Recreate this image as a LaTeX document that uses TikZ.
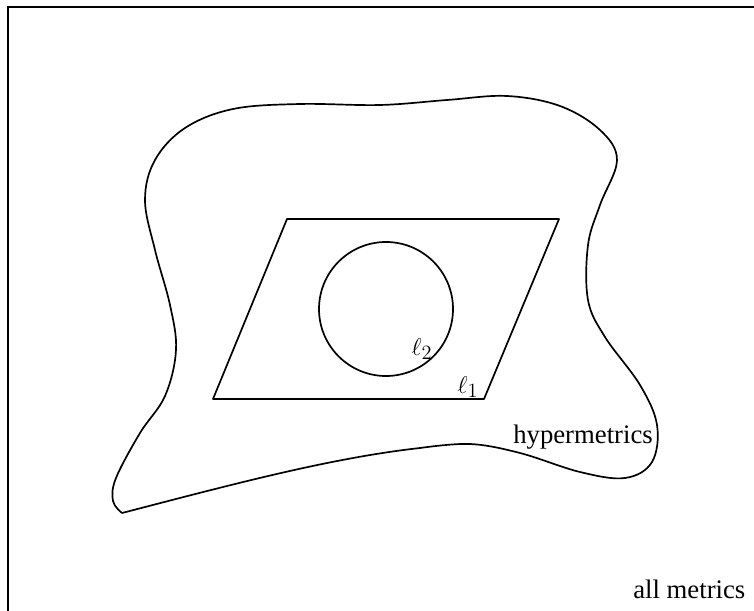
\documentclass[tikz,border=0pt]{standalone}
\usepackage{fontspec}
\setmainfont{Liberation Serif}
\usepackage{tikz}

\begin{document}
\begin{tikzpicture}[
    x=0.025cm, y=-0.025cm,
    outline/.style={line width=1.2pt, line join=round},
    lbl/.style={font=\fontsize{19}{23}\selectfont, inner sep=0pt}
]
\useasboundingbox (0,0) rectangle (754,610);

% Outer frame (all metrics)
\draw[line width=1.4pt] (8,7) rectangle (790,650);

% Hypermetrics blob
\draw[outline] plot[smooth, tension=0.6] coordinates {
    (122,513) (113,501) (116,478) (140,433) (165,396) (176,350) (170,305)
    (155,250) (145,200) (155,160) (185,128) (233,109) (300,104) (380,105)
    (447,100) (507,96) (560,106) (600,130) (617,160) (600,205) (588,245)
    (588,300) (605,337) (640,385) (657,425) (652,462) (625,478) (580,472)
    (520,453) (470,444) (420,448)}
    .. controls (330,458) and (230,485) .. (122,513);

% l1 ball
\draw[outline] (287,219) -- (559,219) -- (484,399) -- (213,399) -- cycle;

% l2 ball
\draw[outline] (386,309) circle[radius=67];

% Labels
\node[lbl] (ltwo) at (422,349) {$\ell_2$};
\node[lbl] (lone) at (468,387) {$\ell_1$};
\node[lbl, anchor=base west] (hyper) at (513,443) {hypermetrics};
\node[lbl, anchor=base west] (all) at (633,598) {all metrics};

\end{tikzpicture}
\end{document}
